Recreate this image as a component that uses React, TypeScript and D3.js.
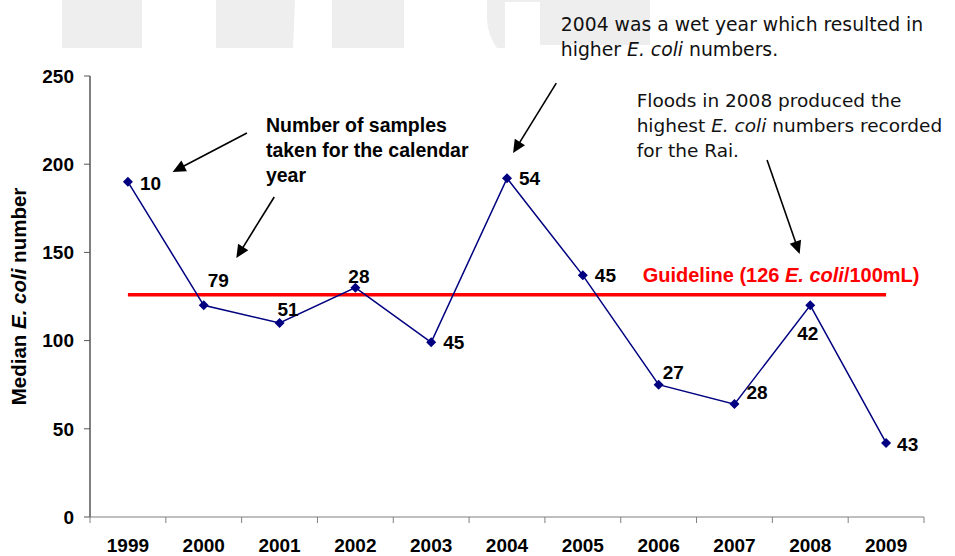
import React from 'react';
import * as d3 from 'd3';

// data
const years = ['1999', '2000', '2001', '2002', '2003', '2004', '2005', '2006', '2007', '2008', '2009'];
const medianEcoli = [190, 120, 110, 130, 99, 192, 137, 75, 64, 120, 42];
const sampleCounts = [10, 79, 51, 28, 45, 54, 45, 27, 28, 42, 43];
const yTicks = [0, 50, 100, 150, 200, 250];
const guidelineValue = 126;

// where each sample-count label sits relative to its point [dx, dy]
const labelOffsets = [[12, 8], [4, -18], [-2, -7], [-7, -5], [12, 7], [12, 7], [12, 7], [4, -6], [12, -5], [-13, 35], [11, 8]];

// annotation arrows in (year, value) space
const arrows = [
  { from: [2000.57, 217.7], to: [1999.59, 195.6] },
  { from: [2000.93, 181.4], to: [2000.43, 146.8] },
  { from: [2004.65, 246], to: [2004.08, 206.3] },
  { from: [2007.43, 202.4], to: [2007.86, 149.1] },
];

const W = 955;
const H = 556;
const margin = { top: 76, right: 31, bottom: 39, left: 90 };

const boldFont = '"Liberation Sans", Arial, sans-serif';
const plainFont = '"DejaVu Sans", Verdana, sans-serif';

export default function App() {
  const x = d3.scaleBand<string>()
    .domain(years)
    .range([margin.left, W - margin.right])
    .padding(0);

  const y = d3.scaleLinear()
    .domain([0, 250])
    .range([H - margin.bottom, margin.top]);

  const cx = (yr: string) => (x(yr) as number) + x.bandwidth() / 2;
  // fractional year -> pixel, for annotations
  const xf = d3.scaleLinear()
    .domain([+years[0], +years[years.length - 1]])
    .range([cx(years[0]), cx(years[years.length - 1])]);

  const line = d3.line<number>()
    .x((_, i) => cx(years[i]))
    .y(d => y(d));

  // square diamond marker (d3's symbolDiamond is too tall)
  const diamond = 'M0,-5L5,0L0,5L-5,0Z';

  const bandEdges = years.map(yr => x(yr) as number).concat([W - margin.right]);
  const y0 = y(0);

  const arrowHead = (x1: number, y1: number, x2: number, y2: number) => {
    const a = Math.atan2(y2 - y1, x2 - x1);
    const len = 13, half = 6;
    const bx = x2 - len * Math.cos(a), by = y2 - len * Math.sin(a);
    const px = -Math.sin(a) * half, py = Math.cos(a) * half;
    return `M${x2},${y2}L${bx + px},${by + py}L${bx - px},${by - py}Z`;
  };

  return (
    <svg width={W} height={H} style={{ position: 'absolute', left: 0, top: 0, background: '#fff' }}>
      {/* faint watermark shapes at the top */}
      <g fill="#eeeeee">
        <rect x={62} y={0} width={80} height={48} />
        <path d="M216,0L295,0L293,48L216,48Z" />
        <rect x={332} y={0} width={72} height={48} />
        <path d="M487,0L505,0L505,48L497,48Q488,36 487,20Z" />
        <rect x={505} y={0} width={35} height={2} />
        <rect x={540} y={0} width={110} height={45} />
      </g>

      {/* y axis */}
      <line x1={margin.left} x2={margin.left} y1={y(250)} y2={y0} stroke="#000" strokeWidth={1} />
      {yTicks.map(t => (
        <g key={t}>
          <line x1={margin.left - 6} x2={margin.left} y1={y(t)} y2={y(t)} stroke="#555" />
          <text x={margin.left - 16} y={y(t)} dy="0.36em" textAnchor="end"
            fontFamily={boldFont} fontWeight="bold" fontSize={19}>{t}</text>
        </g>
      ))}

      {/* x axis */}
      <line x1={margin.left} x2={W - margin.right} y1={y0} y2={y0} stroke="#808080" strokeWidth={1.2} />
      {bandEdges.map((e, i) => (
        <line key={i} x1={e} x2={e} y1={y0} y2={y0 + 6} stroke="#808080" strokeWidth={1} />
      ))}
      {years.map(yr => (
        <text key={yr} x={cx(yr)} y={552} textAnchor="middle"
          fontFamily={boldFont} fontWeight="bold" fontSize={19}>{yr}</text>
      ))}

      {/* y title */}
      <text transform={`translate(26,${(y(250) + y0) / 2}) rotate(-90)`} textAnchor="middle"
        fontFamily={boldFont} fontWeight="bold" fontSize={20.5}>
        Median <tspan fontStyle="italic">E. coli</tspan> number
      </text>

      {/* guideline */}
      <line x1={cx(years[0])} x2={cx(years[years.length - 1])} y1={y(guidelineValue)} y2={y(guidelineValue)}
        stroke="#ff0000" strokeWidth={3.5} />
      <text x={xf(2005.79)} y={y(133.2)} fill="#ff0000"
        fontFamily={boldFont} fontWeight="bold" fontSize={20}>
        Guideline (126 <tspan fontStyle="italic">E. coli</tspan>/100mL)
      </text>

      {/* series */}
      <path d={line(medianEcoli) || ''} fill="none" stroke="#000080" strokeWidth={1.5} />
      {medianEcoli.map((v, i) => (
        <path key={i} d={diamond} transform={`translate(${cx(years[i])},${y(v)})`} fill="#000080" />
      ))}
      {sampleCounts.map((n, i) => (
        <text key={i} x={cx(years[i]) + labelOffsets[i][0]} y={y(medianEcoli[i]) + labelOffsets[i][1]}
          fontFamily={boldFont} fontWeight="bold" fontSize={19}>{n}</text>
      ))}

      {/* annotations */}
      <text fontFamily={boldFont} fontWeight="bold" fontSize={19.5}>
        <tspan x={xf(2000.82)} y={y(218.3)}>Number of samples</tspan>
        <tspan x={xf(2000.82)} dy={25}>taken for the calendar</tspan>
        <tspan x={xf(2000.82)} dy={25}>year</tspan>
      </text>
      <text fontFamily={plainFont} fontSize={18.8} fill="#111">
        <tspan x={xf(2004.71)} y={y(275.5)}>2004 was a wet year which resulted in</tspan>
        <tspan x={xf(2004.71)} dy={25}>higher <tspan fontStyle="italic">E. coli</tspan> numbers.</tspan>
      </text>
      <text fontFamily={plainFont} fontSize={18.5} fill="#111">
        <tspan x={xf(2005.71)} y={y(232.4)}>Floods in 2008 produced the</tspan>
        <tspan x={xf(2005.71)} dy={25}>highest <tspan fontStyle="italic">E. coli</tspan> numbers recorded</tspan>
        <tspan x={xf(2005.71)} dy={25}>for the Rai.</tspan>
      </text>

      {arrows.map((a, i) => {
        const x1 = xf(a.from[0]), y1 = y(a.from[1]);
        const x2 = xf(a.to[0]), y2 = y(a.to[1]);
        const ang = Math.atan2(y2 - y1, x2 - x1);
        return (
          <g key={i}>
            <line x1={x1} y1={y1} x2={x2 - 10 * Math.cos(ang)} y2={y2 - 10 * Math.sin(ang)}
              stroke="#000" strokeWidth={1.6} />
            <path d={arrowHead(x1, y1, x2, y2)} fill="#000" />
          </g>
        );
      })}
    </svg>
  );
}
